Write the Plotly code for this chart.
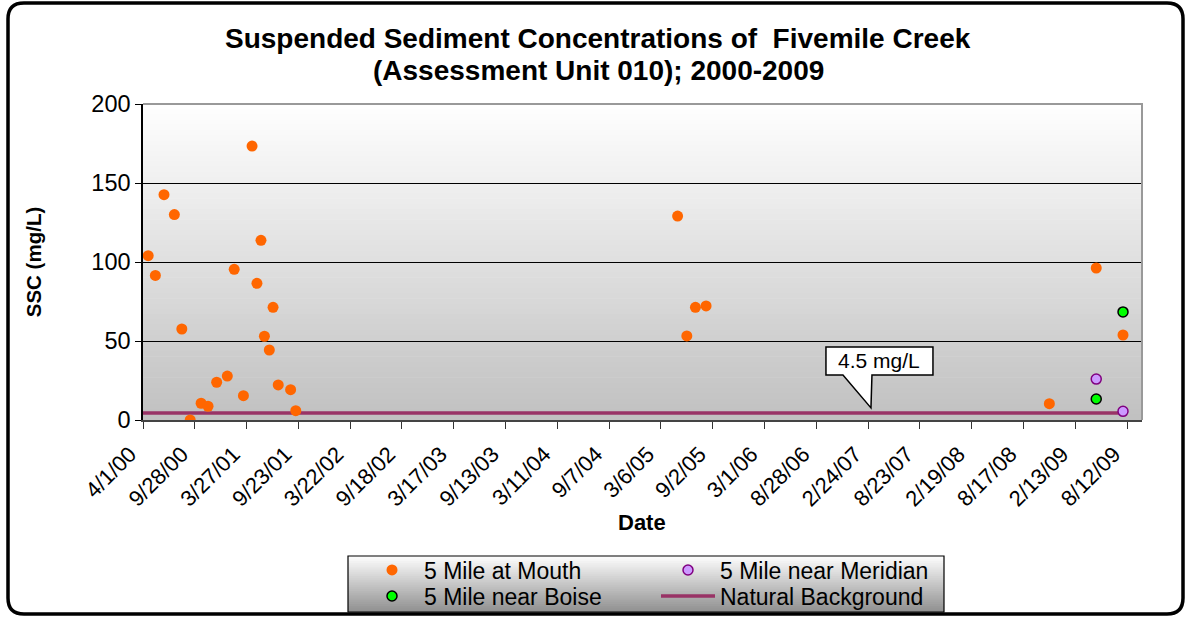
import plotly.graph_objects as go
import pandas as pd

# ---------------- data ----------------
mouth_dates = ['2000-04-19', '2000-05-14', '2000-06-13', '2000-07-19', '2000-08-14',
               '2000-09-12', '2000-10-20', '2000-11-13', '2000-12-13', '2001-01-19',
               '2001-02-12', '2001-03-16', '2001-04-15', '2001-05-02', '2001-05-16',
               '2001-05-28', '2001-06-14', '2001-06-27', '2001-07-15', '2001-08-27',
               '2001-09-14', '2005-05-03', '2005-06-04', '2005-07-04', '2005-08-10',
               '2008-11-15', '2009-04-27', '2009-07-29']
mouth_ssc = [104, 91.5, 142.6, 130, 57.6, 0, 10.6, 8.7, 23.9, 27.8,
             95.4, 15.4, 173.4, 86.5, 113.7, 53, 44.3, 71.3, 22.2, 19.2,
             5.9, 129.1, 53.2, 71.3, 72.2, 10.3, 96.2, 53.8]

boise_dates = ['2009-04-27', '2009-07-29']
boise_ssc = [13.3, 68.4]

meridian_dates = ['2009-04-27', '2009-07-29']
meridian_ssc = [25.9, 5.5]

background_dates = ['2000-04-01', '2009-07-29']
background_ssc = [4.5, 4.5]

tick_labels = ['4/1/00', '9/28/00', '3/27/01', '9/23/01', '3/22/02', '9/18/02',
               '3/17/03', '9/13/03', '3/11/04', '9/7/04', '3/6/05', '9/2/05',
               '3/1/06', '8/28/06', '2/24/07', '8/23/07', '2/19/08', '8/17/08',
               '2/13/09', '8/12/09']
y_ticks = [0, 50, 100, 150, 200]

callout_date = '2007-03-06'
callout_value = 4.5
callout_text = '4.5 mg/L'

# ---------------- layout constants ----------------
W, H = 1187, 617
L, R, T, B = 143, W - 1142, 104, H - 420
PW, PH = W - L - R, H - T - B
FONT = 'Liberation Sans, Arial, sans-serif'

tick_vals = [pd.to_datetime(t, format='%m/%d/%y').strftime('%Y-%m-%d') for t in tick_labels]
x_range = ['2000-04-01', '2009-10-03']


def mix(c1, c2, f):
    return '#%02x%02x%02x' % tuple(round(a + (b - a) * f) for a, b in zip(c1, c2))


fig = go.Figure()

fig.add_trace(go.Scatter(x=background_dates, y=background_ssc, mode='lines',
                         name='Natural Background', line=dict(color='#993366', width=3.5),
                         legend='legend4'))
fig.add_trace(go.Scatter(x=mouth_dates, y=mouth_ssc, mode='markers', name='5 Mile at Mouth',
                         marker=dict(color='#FF6600', size=11, line=dict(width=0)),
                         legend='legend'))
fig.add_trace(go.Scatter(x=boise_dates, y=boise_ssc, mode='markers', name='5 Mile near Boise',
                         marker=dict(color='#00FF00', size=10, line=dict(color='#000000', width=1.5)),
                         legend='legend2'))
fig.add_trace(go.Scatter(x=meridian_dates, y=meridian_ssc, mode='markers', name='5 Mile near Meridian',
                         marker=dict(color='#CC99FF', size=10, line=dict(color='#800080', width=1.5)),
                         legend='legend3'))

shapes = []
# plot-area gradient (white top -> grey bottom)
n = 60
for i in range(n):
    f = (i + 0.5) / n
    shapes.append(dict(type='rect', xref='paper', yref='paper', x0=0, x1=1,
                       y0=1 - (i + 1) / n, y1=1 - i / n + 0.002,
                       fillcolor=mix((255, 255, 255), (192, 192, 192), f),
                       line=dict(width=0), layer='below'))

# legend box gradient (pixel sizing relative to plot bottom-left)
lx0, lx1, ly0, ly1 = 348 - L, 944 - L, 420 - 556, 420 - 612
m = 30
for i in range(m):
    f = (i + 0.5) / m
    ya = ly0 + (ly1 - ly0) * i / m
    yb = ly0 + (ly1 - ly0) * (i + 1) / m
    shapes.append(dict(type='rect', xref='paper', yref='paper', xsizemode='pixel', ysizemode='pixel',
                       xanchor=0, yanchor=0, x0=lx0, x1=lx1, y0=ya + 0.5, y1=yb - 0.5,
                       fillcolor=mix((255, 255, 255), (144, 144, 144), f),
                       line=dict(width=0), layer='above'))
shapes.append(dict(type='rect', xref='paper', yref='paper', xsizemode='pixel', ysizemode='pixel',
                   xanchor=0, yanchor=0, x0=lx0, x1=lx1, y0=ly0, y1=ly1,
                   fillcolor='rgba(0,0,0,0)', line=dict(color='#000000', width=1.2), layer='above'))

# top/right grey frame of plot area
shapes.append(dict(type='path', xref='paper', yref='paper',
                   path='M 0,1 L 1,1 L 1,0', line=dict(color='#999999', width=2), layer='above'))

# outer rounded border
ox0, ox1, oy0, oy1, r = 8 - L, 1183 - L, 420 - 3, 420 - 614, 16
path = (f'M {ox0 + r},{oy0} L {ox1 - r},{oy0} Q {ox1},{oy0} {ox1},{oy0 - r} '
        f'L {ox1},{oy1 + r} Q {ox1},{oy1} {ox1 - r},{oy1} L {ox0 + r},{oy1} '
        f'Q {ox0},{oy1} {ox0},{oy1 + r} L {ox0},{oy0 - r} Q {ox0},{oy0} {ox0 + r},{oy0} Z')
shapes.append(dict(type='path', xref='paper', yref='paper', xsizemode='pixel', ysizemode='pixel',
                   xanchor=0, yanchor=0, path=path, line=dict(color='#000000', width=3.5)))

# callout bubble anchored to the natural background line
cpath = 'M -45,38 L -28,38 L 0,5 L 1,38 L 62,38 L 62,66 L -45,66 Z'
shapes.append(dict(type='path', xref='x', yref='y', xsizemode='pixel', ysizemode='pixel',
                   xanchor=callout_date, yanchor=callout_value, path=cpath,
                   fillcolor='#FFFFFF', line=dict(color='#000000', width=1.5), layer='above'))

annotations = [
    dict(text='<b>Suspended Sediment Concentrations of  Fivemile Creek</b>', xref='paper', yref='paper',
         x=(598 - L) / PW, y=(420 - 38) / PH, showarrow=False, xanchor='center', yanchor='middle',
         font=dict(family=FONT, size=28, color='#000000')),
    dict(text='<b>(Assessment Unit 010); 2000-2009</b>', xref='paper', yref='paper',
         x=(598 - L) / PW, y=(420 - 70) / PH, showarrow=False, xanchor='center', yanchor='middle',
         font=dict(family=FONT, size=28, color='#000000')),
    dict(text='<b>Date</b>', xref='paper', yref='paper',
         x=(642 - L) / PW, y=(420 - 522) / PH, showarrow=False, xanchor='center', yanchor='middle',
         font=dict(family=FONT, size=22, color='#000000')),
    dict(text=callout_text, xref='x', yref='y', x=callout_date, y=callout_value, showarrow=False,
         xshift=8.5, yshift=52, xanchor='center', yanchor='middle',
         font=dict(family=FONT, size=21, color='#000000')),
]


def legend_pos(px, py):
    return dict(x=(px - L) / PW, y=(420 - py) / PH, xanchor='left', yanchor='middle',
                bgcolor='rgba(0,0,0,0)', borderwidth=0, itemwidth=54,
                font=dict(family=FONT, size=23, color='#000000'))


fig.update_layout(
    width=W, height=H,
    margin=dict(l=L, r=R, t=T, b=B, autoexpand=False),
    paper_bgcolor='#FFFFFF', plot_bgcolor='rgba(0,0,0,0)',
    font=dict(family=FONT, color='#000000'),
    showlegend=True,
    legend=legend_pos(360, 570),
    legend2=legend_pos(360, 596),
    legend3=legend_pos(656, 570),
    legend4=legend_pos(656, 596),
    shapes=shapes,
    annotations=annotations,
    xaxis=dict(type='date', range=x_range, tickvals=tick_vals, ticktext=tick_labels,
               tickangle=-45, tickfont=dict(family=FONT, size=22, color='#000000'),
               ticks='outside', ticklen=7, tickcolor='#333333', showgrid=False,
               ticklabelstandoff=4, ticklabelshift=-13,
               showline=True, linecolor='#444444', linewidth=1.5, zeroline=False,
               automargin=False),
    yaxis=dict(range=[0, 200], tickvals=y_ticks, tickfont=dict(family=FONT, size=23.5, color='#000000'),
               ticks='outside', ticklen=6, tickcolor='#000000', showgrid=True, gridcolor='#000000',
               gridwidth=1, showline=True, linecolor='#000000', linewidth=1.5, zeroline=False,
               automargin=False,
               title=dict(text='<b>SSC (mg/L)</b>', font=dict(family=FONT, size=20.5), standoff=44)),
)

post = "document.body.style.margin='0';document.body.style.overflow='hidden';"
fig.write_html('out.html', config={'displayModeBar': False}, post_script=post)
